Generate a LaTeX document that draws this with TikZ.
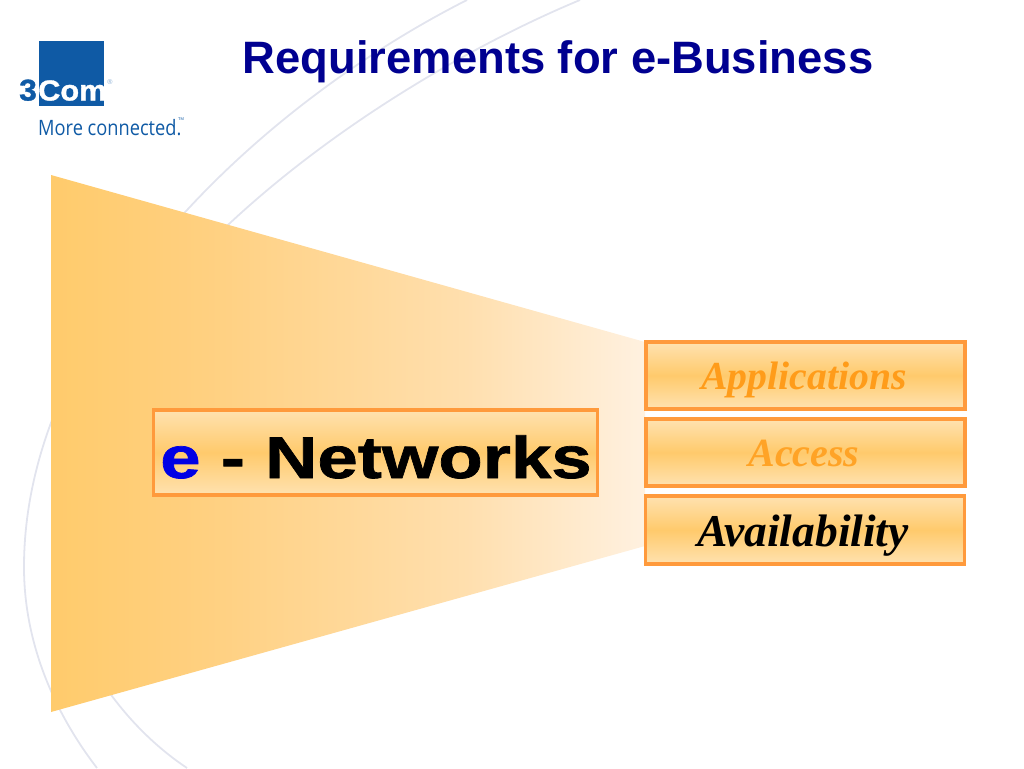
\documentclass[tikz,border=0pt]{standalone}
\usepackage{fontspec}
\setmainfont{Liberation Serif}
\setsansfont{Liberation Sans}
\newfontfamily\widefont[BoldFeatures={FakeStretch=1.23,FakeBold=1.2}]{Liberation Sans}
\newfontfamily\markfont[BoldFeatures={FakeStretch=1.06,FakeBold=1.2}]{Liberation Sans}
\newfontfamily\logofont[FakeStretch=0.86]{Open Sans}
\definecolor{titleblue}{HTML}{000090}
\definecolor{logoblue}{HTML}{0F5AA5}
\definecolor{boxline}{HTML}{FF9A3C}
\definecolor{arcgrey}{HTML}{E2E4EE}
\definecolor{funnelA}{HTML}{FFCB6C}
\definecolor{funnelB}{HTML}{FFD080}
\definecolor{funnelC}{HTML}{FFDFAE}
\definecolor{funnelD}{HTML}{FFF1E0}
\definecolor{boxlight}{HTML}{FFE2B0}
\definecolor{boxmid}{HTML}{FFCA6C}
\definecolor{appstext}{HTML}{FF9C1A}
\definecolor{accesstext}{HTML}{FFA326}
\pgfdeclarehorizontalshading{funnelshade}{100bp}{
  color(0bp)=(funnelA); color(25bp)=(funnelA); color(38bp)=(funnelB);
  color(60bp)=(funnelC); color(75bp)=(funnelD); color(100bp)=(funnelD)}
\tikzset{
  boxshade/.style={draw=boxline, line width=3.2pt, top color=boxlight, bottom color=boxlight, middle color=boxmid,
    minimum height=67pt, inner sep=0pt},
  optionbox/.style={boxshade, minimum width=319pt},
  optionlabel/.style={inner sep=0pt, anchor=base, font=\fontsize{#1}{#1}\selectfont\bfseries\itshape},
  arcline/.style={draw=arcgrey, line width=1.8pt},
}
\begin{document}
\begin{tikzpicture}[x=1pt, y=-1pt, line join=miter]
  \useasboundingbox (0,0) rectangle (1024,768);
  % background arcs
  \draw[arcline] (467,0) .. controls (250,110) and (24,330) .. (24,567) .. controls (24,650) and (60,720) .. (97,768);
  \draw[arcline] (580,0) .. controls (400,75) and (130,250) .. (60,470) .. controls (30,590) and (100,710) .. (187,768);
  % funnel
  \path[shading=funnelshade] (51,175) -- (645,342) -- (645,546) -- (51,712) -- cycle;
  % logo
  \fill[logoblue] (38.5,41) rectangle (103.5,105.5);
  \node[inner sep=0pt, anchor=base west, text=logoblue] (three) at (19,100.5) {\markfont\bfseries\fontsize{30}{30}\selectfont 3};
  \node[inner sep=0pt, anchor=base west, text=white] (com) at (38,100.5) {\markfont\bfseries\fontsize{29}{29}\selectfont Com};
  \node[inner sep=0pt, text=logoblue!50] (regmark) at (110,82) {\sffamily\fontsize{7}{7}\selectfont\textregistered};
  \node[inner sep=0pt, anchor=base west, text=logoblue] (slogan) at (38,135) {\logofont\fontsize{21.2}{21.2}\selectfont More connected.};
  \node[inner sep=0pt, text=logoblue] (tmark) at (181,119) {\sffamily\fontsize{4}{4}\selectfont TM};
  % title
  \node[inner sep=0pt, anchor=base, text=titleblue] (title) at (558,73) {\sffamily\bfseries\fontsize{45.4}{45.4}\selectfont Requirements for e-Business};
  % main box
  \node[boxshade, minimum width=444pt, minimum height=85pt] (enet) at (375.5,452.5) {};
  \node[inner sep=0pt, anchor=base] (enetlabel) at (376,478) {\widefont\bfseries\fontsize{59}{59}\selectfont\textcolor{blue!90!black}{e} - Networks};
  % right boxes
  \node[optionbox] (apps) at (805.5,375.5) {};
  \node[optionbox] (access) at (805.5,452.5) {};
  \node[optionbox, minimum height=68pt] (avail) at (805,530) {};
  \node[optionlabel=39.7, text=appstext] (appslabel) at (804,389) {Applications};
  \node[optionlabel=40, text=accesstext] (accesslabel) at (804,466) {Access};
  \node[optionlabel=45.5, text=black] (availlabel) at (803,546) {Availability};
\end{tikzpicture}
\end{document}
